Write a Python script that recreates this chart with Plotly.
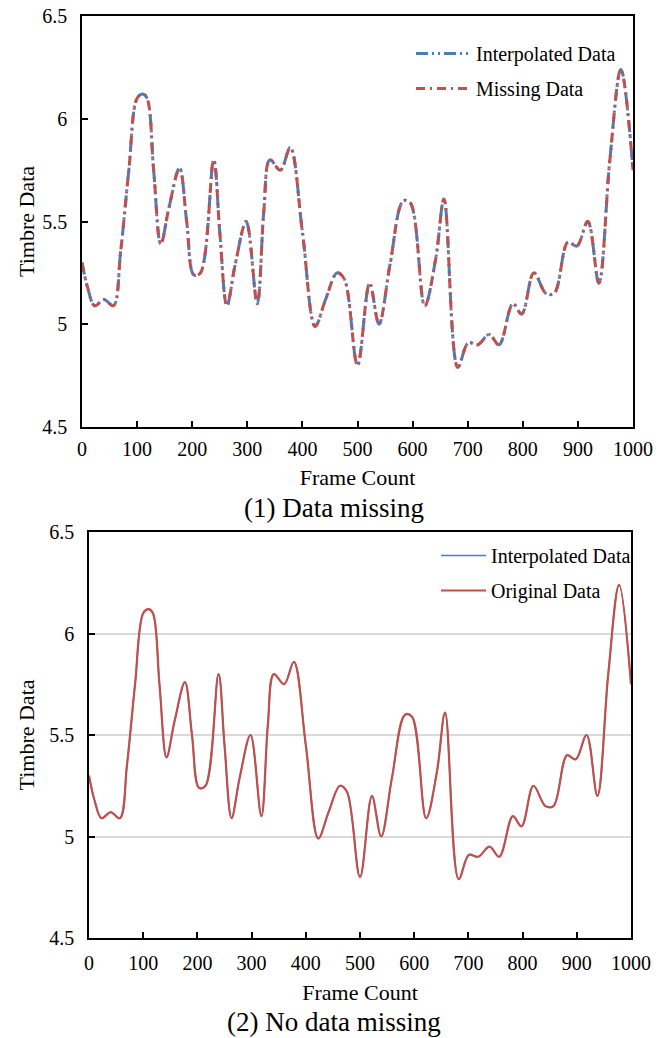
import plotly.graph_objects as go

# Frame count positions and timbre values
frames = [0, 10, 23, 40, 57, 70, 85, 100, 110, 118, 130, 143, 158, 177, 190, 203, 215,
          239, 250, 263, 278, 298, 318, 330, 341, 360, 378, 400, 423, 442, 463, 476,
          500, 522, 539, 559, 583, 596, 622, 642, 657, 682, 701, 718, 739, 757, 782,
          798, 820, 842, 857, 882, 898, 918, 938, 958, 978, 1000]
interpolated = [5.30, 5.18, 5.09, 5.12, 5.09, 5.35, 5.75, 6.10, 6.12, 6.10, 5.75, 5.39,
                5.57, 5.76, 5.50, 5.24, 5.25, 5.80, 5.45, 5.09, 5.29, 5.50, 5.10, 5.55,
                5.80, 5.75, 5.86, 5.45, 4.99, 5.12, 5.25, 5.22, 4.80, 5.20, 5.00, 5.29,
                5.60, 5.59, 5.09, 5.32, 5.61, 4.79, 4.91, 4.90, 4.95, 4.90, 5.10, 5.05,
                5.25, 5.15, 5.15, 5.40, 5.38, 5.50, 5.20, 5.80, 6.24, 5.75]
missing = list(interpolated)
original = list(interpolated)

x_ticks = [0, 100, 200, 300, 400, 500, 600, 700, 800, 900, 1000]
y_ticks = [4.5, 5, 5.5, 6, 6.5]
y_tick_labels = ["4.5", "5", "5.5", "6", "6.5"]

BLUE = "#4A7EBB"
RED = "#C0504D"
FONT = "Liberation Serif"
W, H = 672, 1038

fig = go.Figure()

# Top panel
fig.add_trace(go.Scatter(x=frames, y=interpolated, name="Interpolated Data", mode="lines",
                         line=dict(color=BLUE, width=3, shape="spline", smoothing=1,
                                   dash="12px,4px,2px,4px,2px,4px"),
                         xaxis="x", yaxis="y", legend="legend", legendgroup="a"))
fig.add_trace(go.Scatter(x=frames, y=missing, name="Missing Data", mode="lines",
                         line=dict(color=RED, width=3, shape="spline", smoothing=1,
                                   dash="9px,5px,2px,5px"),
                         xaxis="x", yaxis="y", legend="legend", legendgroup="b"))
# Bottom panel
fig.add_trace(go.Scatter(x=frames, y=interpolated, name="Interpolated Data", mode="lines",
                         line=dict(color=BLUE, width=1.5, shape="spline", smoothing=1),
                         xaxis="x2", yaxis="y2", legend="legend2", legendgroup="c"))
fig.add_trace(go.Scatter(x=frames, y=original, name="Original Data", mode="lines",
                         line=dict(color=RED, width=2.2, shape="spline", smoothing=1),
                         xaxis="x2", yaxis="y2", legend="legend2", legendgroup="d"))

def px_x(p):
    return p / W

def px_y(p):
    return 1 - p / H

axis_common = dict(showline=True, linecolor="black", linewidth=1.5, mirror=True,
                   ticks="inside", ticklen=6, tickwidth=1.5, tickcolor="black",
                   tickfont=dict(family=FONT, size=20, color="black"), zeroline=False,
                   automargin=False)
title_font = dict(family=FONT, size=22, color="black")

fig.update_layout(
    width=W, height=H,
    margin=dict(l=0, r=0, t=0, b=0),
    paper_bgcolor="white", plot_bgcolor="white",
    font=dict(family=FONT, color="black"),
    xaxis=dict(domain=[px_x(82), px_x(633)], anchor="y", range=[0, 1000],
               tickvals=x_ticks, showgrid=False, ticklabelstandoff=3,
               title=dict(text="Frame Count", font=title_font, standoff=11),
               **axis_common),
    yaxis=dict(domain=[px_y(427), px_y(16)], anchor="x", range=[4.5, 6.5],
               tickvals=y_ticks, ticktext=y_tick_labels, showgrid=False, ticklabelstandoff=9,
               title=dict(text="Timbre Data", font=title_font, standoff=2),
               **axis_common),
    xaxis2=dict(domain=[px_x(89), px_x(631)], anchor="y2", range=[0, 1000],
                tickvals=x_ticks, showgrid=False, ticklabelstandoff=6,
                title=dict(text="Frame Count", font=title_font, standoff=12),
                **axis_common),
    yaxis2=dict(domain=[px_y(938), px_y(532)], anchor="x2", range=[4.5, 6.5],
                tickvals=y_ticks, ticktext=y_tick_labels, showgrid=True,
                gridcolor="#D9D9D9", gridwidth=1.5, ticklabelstandoff=9,
                title=dict(text="Timbre Data", font=title_font, standoff=9),
                **axis_common),
    legend=dict(x=px_x(411), y=px_y(34), xanchor="left", yanchor="top",
                bgcolor="rgba(0,0,0,0)", font=dict(family=FONT, size=20, color="black"),
                tracegroupgap=6, itemwidth=55),
    legend2=dict(x=px_x(436), y=px_y(536), xanchor="left", yanchor="top",
                 bgcolor="rgba(0,0,0,0)", font=dict(family=FONT, size=20, color="black"),
                 tracegroupgap=6, itemwidth=45),
    annotations=[
        dict(text="(1) Data missing", x=px_x(334), y=px_y(508), xref="paper", yref="paper",
             showarrow=False, font=dict(family=FONT, size=27, color="black"),
             xanchor="center", yanchor="middle"),
        dict(text="(2) No data missing", x=px_x(334), y=px_y(1022), xref="paper", yref="paper",
             showarrow=False, font=dict(family=FONT, size=27, color="black"),
             xanchor="center", yanchor="middle"),
    ],
)

fig.write_html("out.html", config={"displayModeBar": False},
               post_script="document.body.style.margin='0';document.body.style.overflow='hidden';")
